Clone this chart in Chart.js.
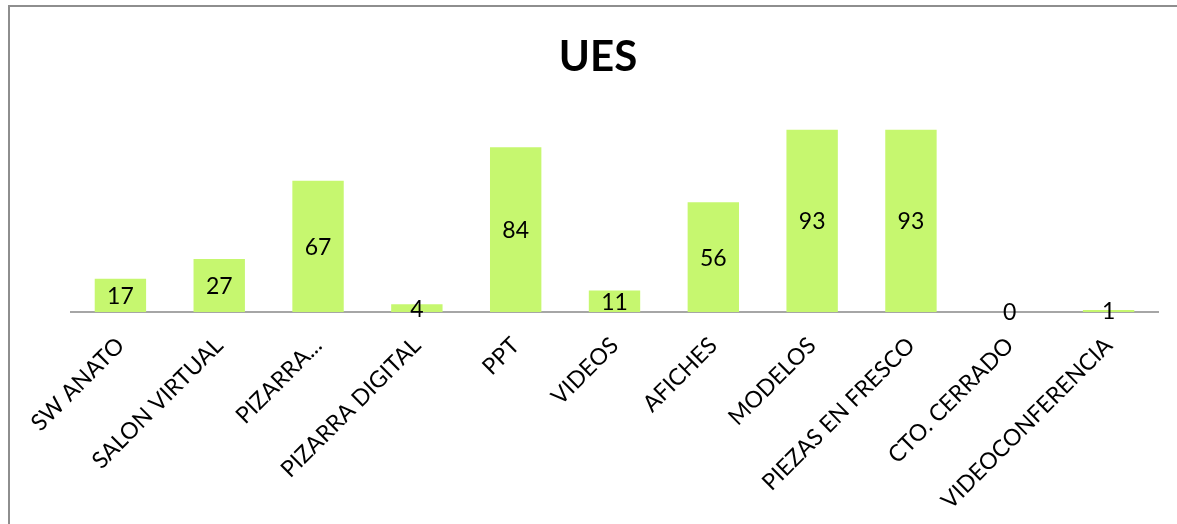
<!DOCTYPE html>
<html>
<head>
<meta charset="utf-8">
<script src="https://cdn.jsdelivr.net/npm/chart.js@4"></script>
<style>
    body { margin: 0; background: #fff; overflow: hidden; }
    #wrap { position: relative; width: 1177px; height: 524px; }
    #frame { position: absolute; left: 8px; top: 5px; width: 1300px; height: 600px;
             border-top: 2px solid #8e8e8e; border-left: 2px solid #8e8e8e; }
    canvas { position: absolute; left: 0; top: 0; }
</style>
</head>
<body>
<div id="wrap">
    <div id="frame"></div>
    <canvas id="myChart" width="1177" height="524"></canvas>
</div>
<script>
// datos
const categorias = ['SW ANATO', 'SALON VIRTUAL', 'PIZARRA...', 'PIZARRA DIGITAL', 'PPT', 'VIDEOS',
    'AFICHES', 'MODELOS', 'PIEZAS EN FRESCO', 'CTO. CERRADO', 'VIDEOCONFERENCIA'];
const valores = [17, 27, 67, 4, 84, 11, 56, 93, 93, 0, 1];
const titulo = 'UES';

// titulo centrado en todo el recuadro (no solo en el area del grafico)
const tituloPlugin = {
    id: 'tituloPlugin',
    afterDraw(chart) {
        const ctx = chart.ctx;
        ctx.save();
        ctx.font = 'bold 42px Lato';
        ctx.fillStyle = '#000';
        ctx.textAlign = 'center';
        ctx.textBaseline = 'alphabetic';
        ctx.fillText(titulo, 598, 71);
        ctx.restore();
    }
};

// etiqueta de valor en el centro de cada barra
const etiquetas = {
    id: 'etiquetas',
    afterDatasetsDraw(chart) {
        const ctx = chart.ctx;
        const meta = chart.getDatasetMeta(0);
        ctx.save();
        ctx.font = '23px Lato';
        ctx.fillStyle = '#000';
        ctx.textAlign = 'center';
        ctx.textBaseline = 'middle';
        meta.data.forEach((bar, i) => {
            const p = bar.getProps(['x', 'y', 'base'], true);
            ctx.fillText(String(valores[i]), p.x, (p.y + p.base) / 2 + 1);
        });
        ctx.restore();
    }
};

const data = {
    labels: categorias,
    datasets: [{
        data: valores,
        backgroundColor: '#c6f76f',
        borderWidth: 0,
        barPercentage: 0.52,
        categoryPercentage: 1,
    }]
};

const config = {
    type: 'bar',
    data: data,
    options: {
        responsive: false,
        animation: false,
        layout: { padding: { left: 71, right: 19, top: 116, bottom: 0 } },
        plugins: {
            legend: { display: false },
            tooltip: { enabled: false },
            title: { display: false }
        },
        scales: {
            x: {
                grid: { display: false },
                border: { display: true, color: '#a6a6a6', width: 2 },
                ticks: {
                    color: '#000',
                    font: { family: 'Lato', size: 23 },
                    maxRotation: 45,
                    minRotation: 45,
                    autoSkip: false,
                    padding: 12
                },
                afterFit: (scale) => { scale.height = 212; }
            },
            y: {
                display: false,
                min: 0,
                max: 100
            }
        }
    },
    plugins: [etiquetas, tituloPlugin]
};

var myChart = new Chart(document.getElementById('myChart'), config);
</script>
</body>
</html>
